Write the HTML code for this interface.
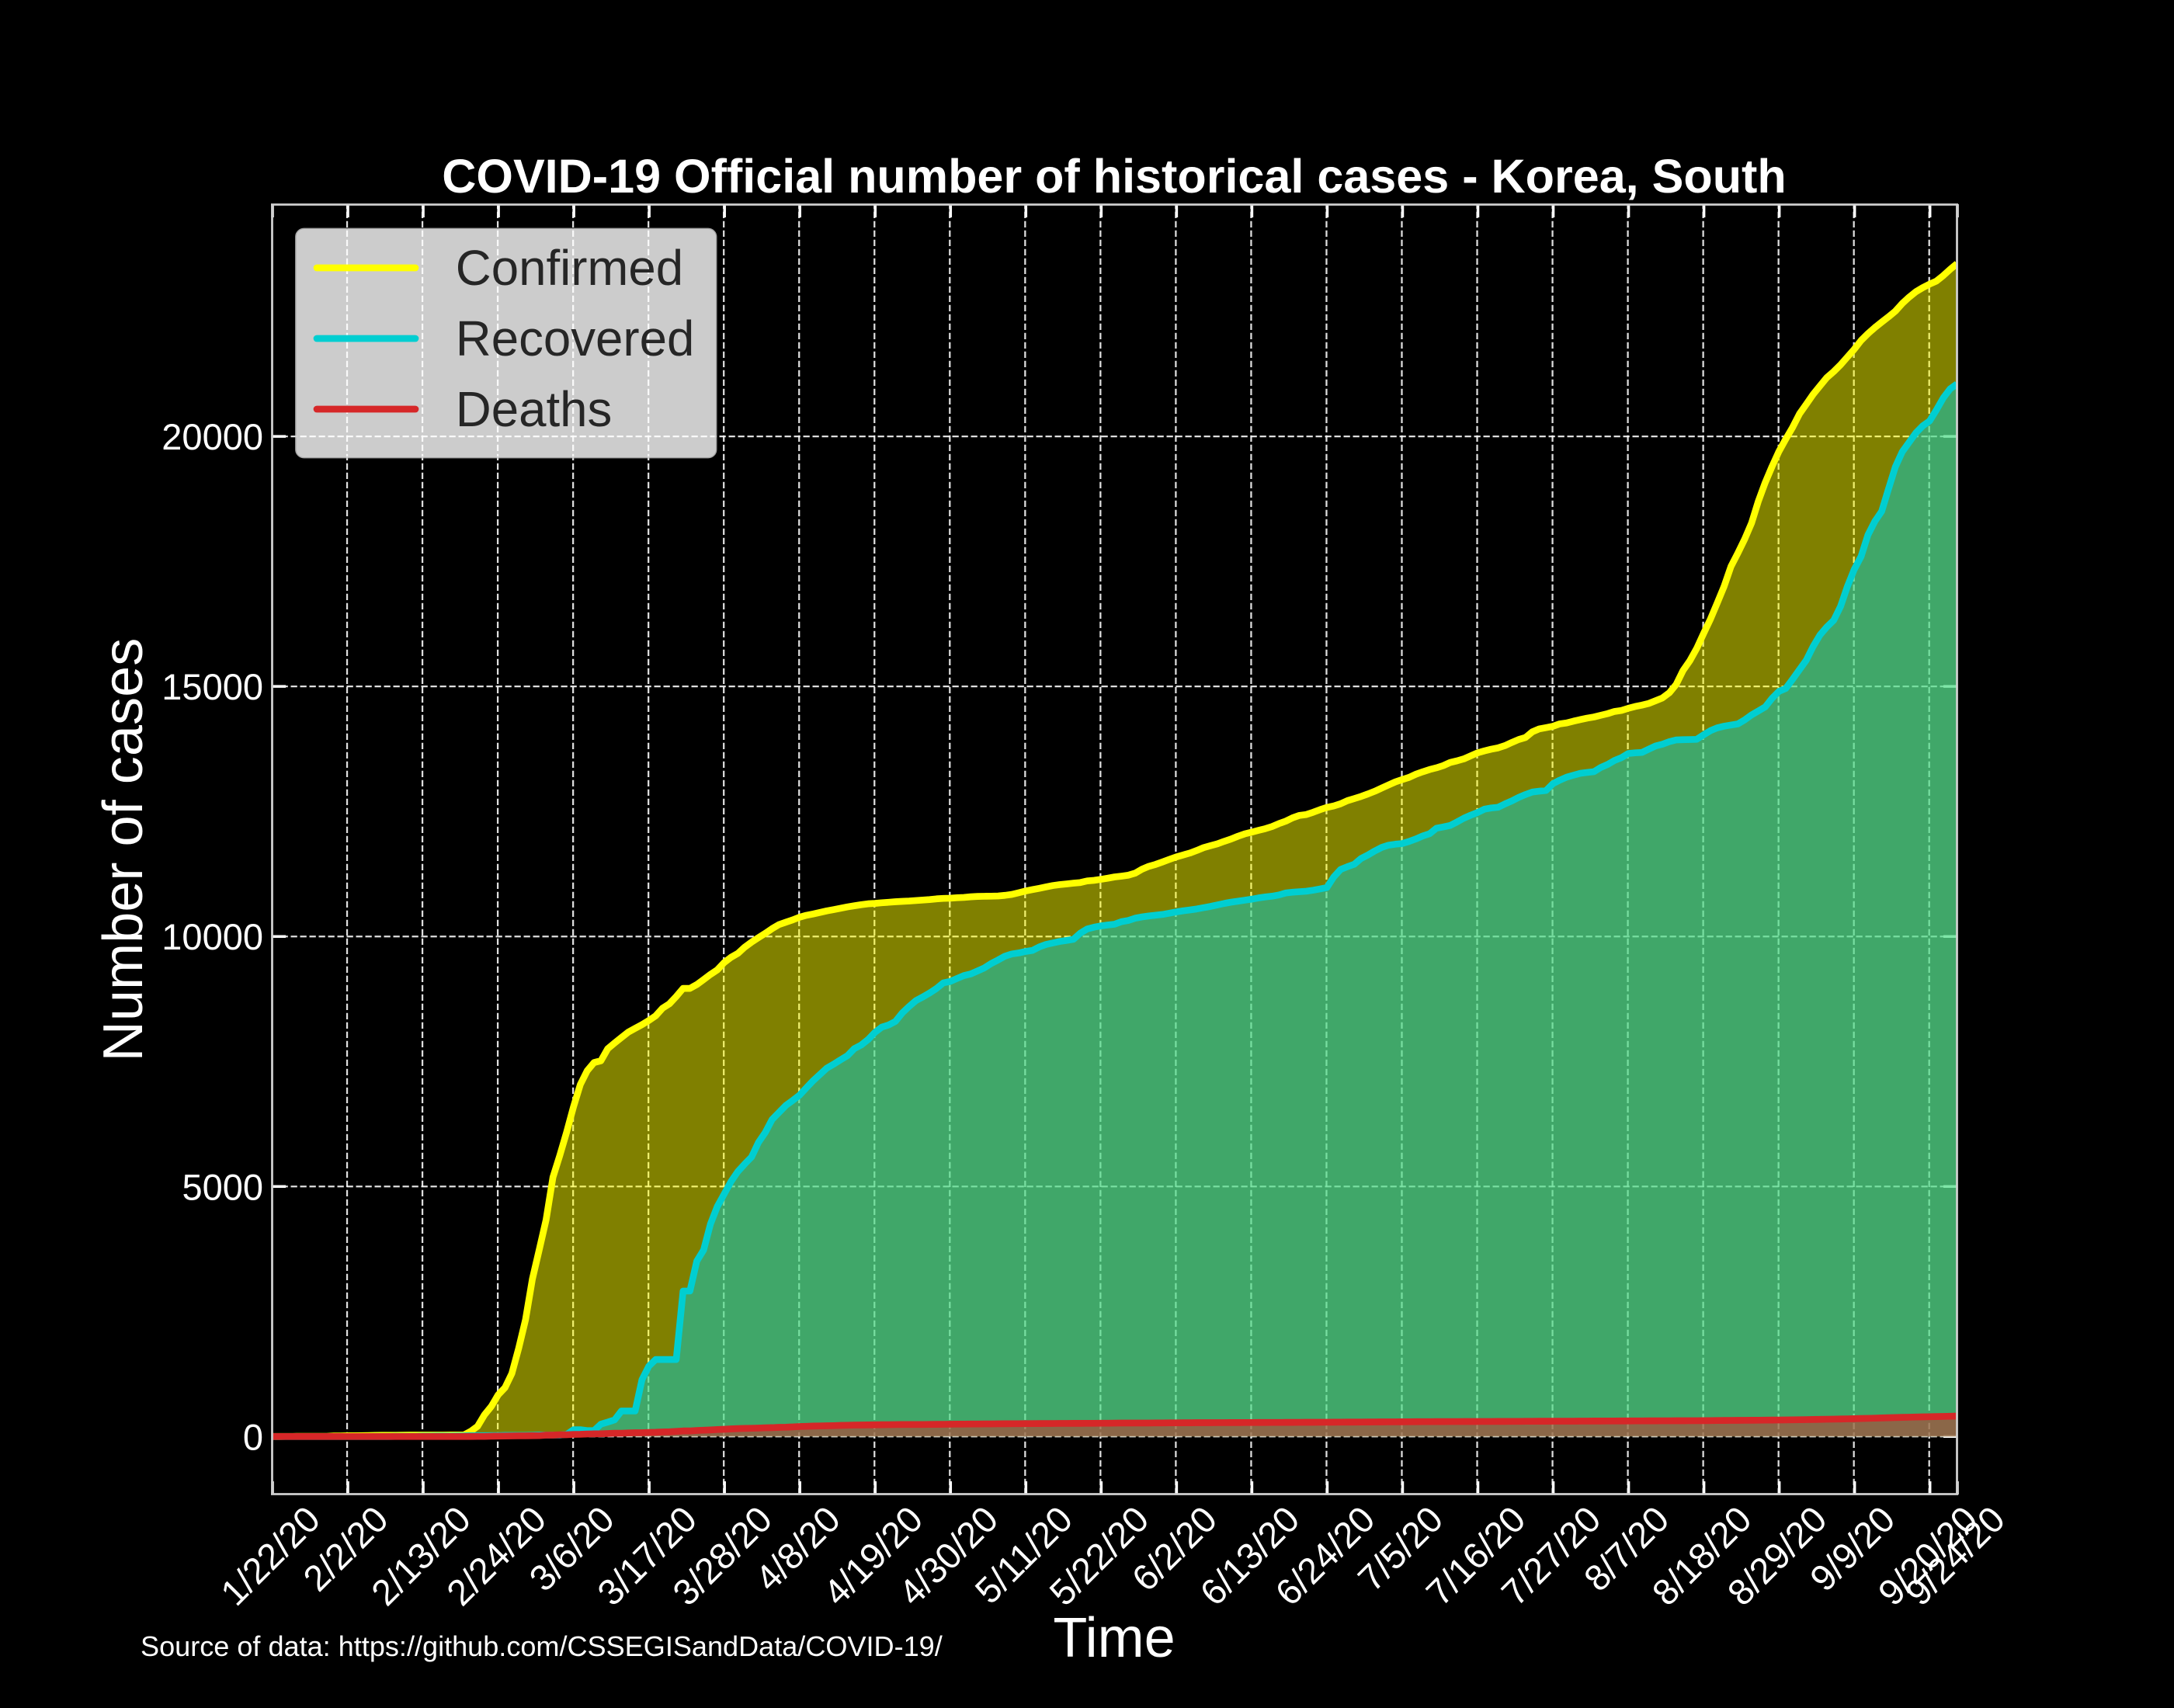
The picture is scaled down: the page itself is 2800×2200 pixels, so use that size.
<!DOCTYPE html>
<html lang="en">
<head>
<meta charset="utf-8">
<title>COVID-19 Official number of historical cases - Korea, South</title>
<style>
html,body{margin:0;padding:0;background:#000;}
body{width:2800px;height:2200px;overflow:hidden;}
svg{display:block;}
text{font-family:"Liberation Sans",Arial,sans-serif;}
</style>
</head>
<body>
<svg id="chart" xmlns="http://www.w3.org/2000/svg" width="2800" height="2200" viewBox="0 0 2800 2200">
  <defs>
    <clipPath id="plot-clip"><rect x="350.5" y="263.5" width="2170" height="1661"></rect></clipPath>
  </defs>
  <rect x="0" y="0" width="2800" height="2200" fill="#000"></rect>
  <g id="grid-layer"></g>
  <g id="tick-layer"></g>
  <g id="series-layer" clip-path="url(#plot-clip)"></g>
  <g>
    <rect x="381.5" y="295" width="540.5" height="294" rx="10" ry="10" fill="rgba(255,255,255,0.8)" stroke="rgba(204,204,204,0.8)" stroke-width="2.8"></rect>
    <line x1="408" y1="345" x2="535" y2="345" stroke="#ffff00" stroke-width="8.68" stroke-linecap="round"></line>
    <text x="586.8" y="367" font-size="63.6" fill="#262626">Confirmed</text>
    <line x1="408" y1="436" x2="535" y2="436" stroke="#00ced1" stroke-width="8.68" stroke-linecap="round"></line>
    <text x="586.8" y="458" font-size="63.6" fill="#262626">Recovered</text>
    <line x1="408" y1="527" x2="535" y2="527" stroke="#d62728" stroke-width="8.68" stroke-linecap="round"></line>
    <text x="586.8" y="549" font-size="63.6" fill="#262626">Deaths</text>
  </g>
  <g stroke="#cfcfcf" stroke-width="2.8" fill="none">
    <line x1="350.5" y1="262.5" x2="350.5" y2="1925.5"></line>
    <line x1="2520.5" y1="262.5" x2="2520.5" y2="1925.5"></line>
    <line x1="349" y1="263.5" x2="2522" y2="263.5"></line>
    <line x1="349" y1="1924.5" x2="2522" y2="1924.5"></line>
  </g>
  <g id="label-layer"></g>
  <text x="1435" y="248" font-size="61.1" font-weight="bold" fill="#fff" text-anchor="middle">COVID-19 Official number of historical cases - Korea, South</text>
  <text transform="translate(183,1094.5) rotate(-90)" font-size="72.2" fill="#fff" text-anchor="middle">Number of cases</text>
  <text x="1435" y="2134" font-size="72" fill="#fff" text-anchor="middle">Time</text>
  <text x="181" y="2133" font-size="36.1" fill="#fff">Source of data: https://github.com/CSSEGISandData/COVID-19/</text>
</svg>
<script>
const confirmedCases = [
1,1,2,2,3,4,4,4,4,11,
12,15,15,16,19,23,24,24,25,27,
28,28,28,28,28,29,30,31,31,104,
204,433,602,833,977,1261,1766,2337,3150,3736,
4335,5186,5621,6088,6593,7041,7314,7478,7513,7755,
7869,7979,8086,8162,8236,8320,8413,8565,8652,8799,
8961,8961,9037,9137,9241,9332,9478,9583,9661,9786,
9887,9976,10062,10156,10237,10284,10331,10384,10423,10450,
10480,10512,10537,10564,10591,10613,10635,10653,10661,10674,
10683,10694,10702,10708,10718,10728,10738,10752,10761,10765,
10774,10780,10793,10801,10804,10806,10810,10822,10840,10874,
10909,10936,10962,10991,11018,11037,11050,11065,11078,11110,
11122,11142,11165,11190,11206,11225,11265,11344,11402,11441,
11490,11541,11590,11629,11668,11719,11776,11814,11852,11902,
11947,12003,12051,12085,12121,12155,12198,12257,12306,12373,
12421,12438,12484,12535,12580,12610,12653,12715,12757,12800,
12850,12904,12967,13030,13091,13137,13181,13244,13293,13338,
13373,13417,13479,13512,13551,13612,13672,13711,13745,13771,
13816,13879,13938,13979,14092,14150,14175,14203,14251,14269,
14305,14336,14366,14389,14423,14456,14499,14519,14562,14598,
14626,14660,14714,14770,14873,15039,15318,15515,15761,16058,
16346,16670,17002,17399,17665,17945,18265,18706,19077,19400,
19699,19947,20182,20449,20644,20842,21010,21177,21296,21432,
21588,21743,21919,22055,22176,22285,22391,22504,22657,22783,
22893,22975,23045,23106,23216,23341,23455
];
const recoveredCases = [
0,0,0,0,0,0,0,0,0,0,
0,0,0,0,0,1,1,1,3,3,
3,4,7,7,9,9,10,12,12,16,
16,16,18,18,22,22,22,22,27,30,
30,30,30,41,135,135,118,118,247,288,
333,510,510,510,1137,1407,1540,1540,1540,1540,
2909,2909,3507,3730,4250,4600,4850,5100,5300,5450,
5590,5880,6080,6340,6480,6620,6720,6825,6973,7117,
7243,7368,7447,7534,7616,7757,7829,7937,8080,8186,
8229,8300,8470,8600,8717,8790,8870,8960,9072,9100,
9160,9217,9250,9310,9372,9460,9530,9606,9650,9670,
9700,9720,9790,9840,9870,9900,9920,9943,10066,10150,
10185,10211,10230,10245,10295,10320,10365,10390,10410,10425,
10440,10465,10490,10512,10530,10550,10575,10600,10630,10660,
10685,10705,10725,10745,10770,10790,10805,10830,10870,10885,
10895,10905,10925,10950,10978,11190,11340,11395,11444,11560,
11630,11710,11780,11825,11845,11858,11900,11950,12010,12055,
12165,12190,12220,12290,12365,12425,12479,12545,12570,12583,
12650,12710,12780,12838,12888,12905,12919,13055,13125,13185,
13225,13262,13280,13295,13380,13440,13520,13575,13659,13672,
13680,13745,13810,13845,13895,13930,13935,13938,13942,14032,
14115,14172,14205,14228,14250,14330,14430,14510,14590,14763,
14901,14960,15144,15335,15525,15800,16030,16190,16322,16600,
17000,17340,17600,18030,18300,18500,18950,19390,19690,19880,
20070,20210,20308,20530,20770,20950,21050
];
const deathCases = [
0,0,0,0,0,0,0,0,0,0,
0,0,0,0,0,0,0,0,0,0,
0,0,0,0,0,0,0,0,0,1,
2,2,6,8,10,12,13,13,16,17,
28,28,35,35,42,44,50,53,54,60,
66,66,72,75,75,81,84,91,94,102,
111,111,120,126,131,139,144,152,158,162,
165,169,174,177,183,186,192,200,204,208,
211,214,217,222,225,229,230,232,234,236,
237,238,240,240,240,241,242,243,244,246,
248,248,250,250,252,252,254,255,256,256,
258,258,259,260,260,262,262,263,263,264,
264,266,266,268,269,269,269,270,270,271,
272,273,273,274,274,276,276,276,277,277,
278,278,279,279,280,280,281,281,282,282,
283,284,284,285,285,286,287,288,288,289,
290,291,292,293,293,294,295,296,297,297,
298,298,299,299,300,300,300,301,301,302,
302,303,303,304,304,305,305,306,306,307,
307,308,308,309,309,310,310,311,311,312,
312,313,313,314,314,315,315,316,316,317,
318,320,321,322,323,324,325,326,328,329,
330,332,334,336,338,340,342,345,347,350,
353,356,360,363,367,371,375,379,383,386,
390,393,396,399,402,405,408
];
const dayCount = 247;
const xTickDays = [0,11,22,33,44,55,66,77,88,99,110,121,132,143,154,165,176,187,198,209,220,231,242,246];
const xTickLabels = ["1/22/20","2/2/20","2/13/20","2/24/20","3/6/20","3/17/20","3/28/20","4/8/20","4/19/20","4/30/20","5/11/20","5/22/20","6/2/20","6/13/20","6/24/20","7/5/20","7/16/20","7/27/20","8/7/20","8/18/20","8/29/20","9/9/20","9/20/20","9/24/20"];
const yTickValues = [0,5000,10000,15000,20000];
const yTickLabels = ["0","5000","10000","15000","20000"];

const SVG_NS = "http://www.w3.org/2000/svg";
const PLOT_LEFT = 350.5, PLOT_RIGHT = 2520.5, PLOT_TOP = 263.5, PLOT_BOTTOM = 1924.5;
const TICK_FONT = 47;

function xScale(day) { return PLOT_LEFT + day * (PLOT_RIGHT - PLOT_LEFT) / (dayCount - 1); }
function yScale(value) { return 1850.3 - value * 0.06441; }
function make(tag, parent) {
  const node = document.createElementNS(SVG_NS, tag);
  parent.appendChild(node);
  return node;
}
function linePath(values) {
  let d = "";
  for (let i = 0; i < values.length; i++) {
    d += (i === 0 ? "M" : "L") + xScale(i).toFixed(2) + " " + yScale(values[i]).toFixed(2);
  }
  return d;
}
function areaPath(values) {
  return linePath(values) + "L" + xScale(values.length - 1).toFixed(2) + " " + yScale(0).toFixed(2) +
    "L" + xScale(0).toFixed(2) + " " + yScale(0).toFixed(2) + "Z";
}
function setLine(node, x1, y1, x2, y2, color, width) {
  node.setAttribute("x1", x1);
  node.setAttribute("y1", y1);
  node.setAttribute("x2", x2);
  node.setAttribute("y2", y2);
  node.setAttribute("stroke", color);
  node.setAttribute("stroke-width", width);
}

const gridLayer = document.getElementById("grid-layer");
const tickLayer = document.getElementById("tick-layer");
const seriesLayer = document.getElementById("series-layer");
const labelLayer = document.getElementById("label-layer");

xTickDays.forEach(function (day, i) {
  const x = xScale(day);
  if (i < xTickDays.length - 1 && i > 0) {
    const grid = make("line", gridLayer);
    
    
    setLine(grid, x - 0.5, 1925, x - 0.5, 263, "rgba(255,255,255,0.87)", 2.26);
    grid.setAttribute("stroke-dasharray", "8.3 3.7");
  }
  const bottomTick = make("line", tickLayer);
  
  
  setLine(bottomTick, x + 0.5, 1925, x + 0.5, 1908, "#fff", 3.5);
  const topTick = make("line", tickLayer);
  
  
  setLine(topTick, x + 0.5, 263, x + 0.5, 280, "#fff", 3.5);

  const label = make("text", labelLayer);
  
  
  label.textContent = xTickLabels[i];
  label.setAttribute("font-size", TICK_FONT);
  label.setAttribute("fill", "#fff");
  label.setAttribute("text-anchor", "middle");
  label.setAttribute("y", 17);
  const width = label.getComputedTextLength();
  const cx = x - 3;
  const cy = 1948 + 0.3535 * width;
  label.setAttribute("transform", "translate(" + cx.toFixed(2) + "," + cy.toFixed(2) + ") rotate(-45)");
});

yTickValues.forEach(function (value, i) {
  const y = yScale(value);
  const grid = make("line", gridLayer);
  
  
  setLine(grid, PLOT_LEFT, y, PLOT_RIGHT, y, "rgba(255,255,255,0.87)", 2.26);
  grid.setAttribute("stroke-dasharray", "8.3 3.7");
  const leftTick = make("line", tickLayer);
  
  
  setLine(leftTick, 350, y, 368, y, "#fff", 3.5);
  const rightTick = make("line", tickLayer);
  
  
  setLine(rightTick, 2521, y, 2503, y, "#fff", 3.5);

  const label = make("text", labelLayer);
  
  
  label.textContent = yTickLabels[i];
  label.setAttribute("font-size", TICK_FONT);
  label.setAttribute("fill", "#fff");
  label.setAttribute("text-anchor", "end");
  label.setAttribute("x", 339);
  label.setAttribute("y", (y + 17).toFixed(2));
});

const confirmedArea = make("path", seriesLayer);


confirmedArea.setAttribute("d", areaPath(confirmedCases));
confirmedArea.setAttribute("fill", "rgba(255,255,0,0.5)");

const recoveredArea = make("path", seriesLayer);


recoveredArea.setAttribute("d", areaPath(recoveredCases));
recoveredArea.setAttribute("fill", "rgba(0,206,209,0.5)");

const deathsArea = make("path", seriesLayer);


deathsArea.setAttribute("d", areaPath(deathCases));
deathsArea.setAttribute("fill", "rgba(214,39,40,0.5)");

const confirmedLine = make("path", seriesLayer);


confirmedLine.setAttribute("d", linePath(confirmedCases));
confirmedLine.setAttribute("fill", "none");
confirmedLine.setAttribute("stroke", "#ffff00");
confirmedLine.setAttribute("stroke-width", "8.68");
confirmedLine.setAttribute("stroke-linejoin", "round");

const recoveredLine = make("path", seriesLayer);


recoveredLine.setAttribute("d", linePath(recoveredCases));
recoveredLine.setAttribute("fill", "none");
recoveredLine.setAttribute("stroke", "#00ced1");
recoveredLine.setAttribute("stroke-width", "8.68");
recoveredLine.setAttribute("stroke-linejoin", "round");

const deathsLine = make("path", seriesLayer);


deathsLine.setAttribute("d", linePath(deathCases));
deathsLine.setAttribute("fill", "none");
deathsLine.setAttribute("stroke", "#d62728");
deathsLine.setAttribute("stroke-width", "8.68");
deathsLine.setAttribute("stroke-linejoin", "round");
</script>
</body>
</html>
